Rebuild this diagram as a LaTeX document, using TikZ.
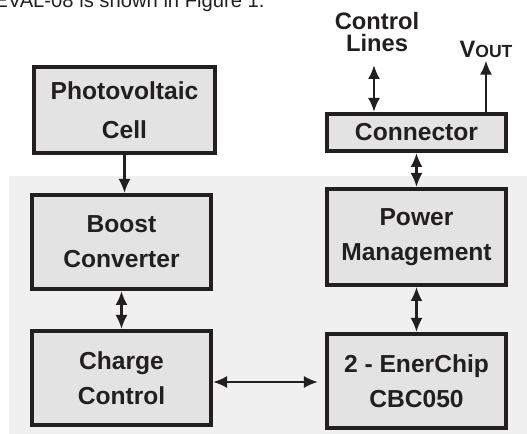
\documentclass[tikz,border=0pt]{standalone}
\usepackage{fontspec}
\setmainfont{Liberation Sans}
\usetikzlibrary{arrows.meta}
\definecolor{ink}{HTML}{231F20}
\definecolor{panel}{HTML}{F0F0F0}
\definecolor{boxfill}{HTML}{E3E3E3}

\begin{document}
\begin{tikzpicture}[x=0.2mm, y=-0.2mm,
    blk/.style={draw=ink, fill=boxfill, line width=0.8mm, align=center, text=ink,
      inner sep=0pt, minimum width=35.8mm, minimum height=18.8mm,
      font=\fontsize{14}{20}\selectfont\bfseries},
    lbl/.style={text=ink, align=center, inner sep=0pt,
      font=\fontsize{13.5}{12}\selectfont\bfseries},
    arr/.style={draw=ink, line width=0.45mm, -{Latex[length=2.8mm,width=2.4mm]}},
    darr/.style={arr, {Latex[length=2.8mm,width=2.4mm]}-{Latex[length=2.8mm,width=2.4mm]}}]
         \useasboundingbox (0,0) rectangle (527,434);
         \clip (0,0) rectangle (527,434);
         \fill [panel] (9,176) rectangle (527,434);
         \node [anchor=base east, text=ink, inner sep=0pt, font=\fontsize{11.5}{12}\selectfont]
               (TX) at (265,8) {CBC-EVAL-08 is shown in Figure 1.};
         \node [blk, minimum width=36.2mm, minimum height=17.2mm, font=\fontsize{14}{22}\selectfont\bfseries]
               (PV) at (124.5,110) {Photovoltaic\\Cell};
         \node [blk, minimum height=7.4mm] (CN) at (416.5,132.5) {Connector};
         \node [blk] (BC) at (121.5,242) {Boost\\Converter};
         \node [blk, minimum height=19.2mm] (PM) at (416.5,237) {Power\\Management};
         \node [blk] (CC) at (121.5,378) {Charge\\Control};
         \node [blk] (EC) at (416.5,381) {2 - EnerChip\\CBC050};
         \node [lbl] (CL) at (377,32) {Control\\Lines};
         \node [lbl, anchor=base] (VO) at (486,58) {V{\fontsize{10}{10}\selectfont OUT}};
         \coordinate (CT) at (374,65);
         \draw [arr] (PV) -- (PV |- BC.north);
         \draw [darr] (CN) -- (PM);
         \draw [darr] (BC) -- (CC);
         \draw [darr] (PM) -- (EC);
         \draw [darr, shorten >=1.4mm] ([yshift=-0.8mm]CC.east) -- ([yshift=-0.8mm]CC.east -| EC.west);
         \draw [darr] (CT) -- (CT |- CN.north);
         \draw [arr, shorten >=0.4mm] (VO.south |- CN.north) -- (VO.south);
\end{tikzpicture}
\end{document}
